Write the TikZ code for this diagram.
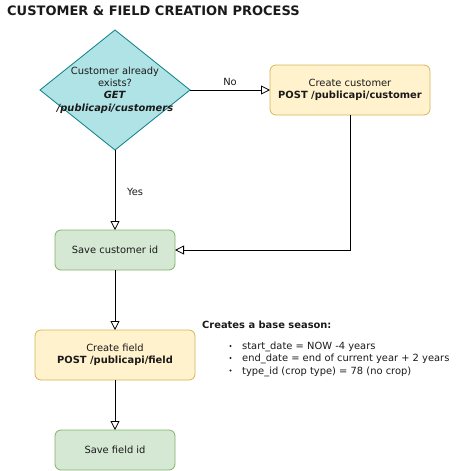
\documentclass[tikz,border=0pt]{standalone}
\usepackage{fontspec}
\setmainfont{DejaVu Sans}
\usetikzlibrary{arrows.meta,shapes.geometric}
\definecolor{dfill}{HTML}{B0E3E6}
\definecolor{dstroke}{HTML}{0E8088}
\definecolor{yfill}{HTML}{FFF2CC}
\definecolor{ystroke}{HTML}{D6B656}
\definecolor{gfill}{HTML}{D5E8D4}
\definecolor{gstroke}{HTML}{82B366}
\definecolor{txt}{HTML}{1A1A1A}
\begin{document}
\begin{tikzpicture}[x=1pt,y=-1pt,
  every node/.style={text=txt},
  basefont/.style={font=\fontsize{9.9}{12.2}\selectfont},
  lbl/.style={basefont, align=center, inner sep=0pt},
  ybox/.style={lbl, draw=ystroke, fill=yfill, rounded corners=6pt, minimum width=160pt, minimum height=50pt, line width=0.8pt, outer sep=0pt},
  gbox/.style={lbl, draw=gstroke, fill=gfill, rounded corners=6pt, minimum width=120pt, minimum height=40pt, line width=0.8pt, outer sep=0pt},
  decbox/.style={diamond, draw=dstroke, fill=dfill, minimum width=150pt, minimum height=120pt, inner sep=0pt, outer sep=0pt, line width=0.8pt},
  conn/.style={line width=0.8pt, -{Triangle[open,length=9pt,width=9pt]}},
  plain/.style={basefont, inner sep=0pt}
]
\useasboundingbox (0,0) rectangle (471,471);

\node[anchor=base west, inner sep=0pt, font=\fontsize{13}{15}\selectfont\bfseries] (title) at (7,15) {CUSTOMER \& FIELD CREATION PROCESS};

\node[decbox] (dec) at (115,90) {};
\node[lbl] (dectext) at (115,90) {Customer already\\exists?\\\textbf{\textit{GET}}\\\textbf{\textit{/publicapi/customers}}};

\node[ybox] (cc) at (350,90) {Create customer\\\textbf{POST /publicapi/customer}};
\node[gbox] (sc) at (115,250) {Save customer id};
\node[ybox] (cf) at (115,355) {Create field\\\textbf{POST /publicapi/field}};
\node[gbox] (sf) at (115,450) {Save field id};

\draw[conn] (dec.east) -- (cc.west) node[midway, yshift=8.3pt, plain] (no) {No};
\draw[conn] (dec.south) -- (sc.north) node[midway, xshift=20pt, yshift=-1.5pt, plain] (yes) {Yes};
\draw[conn] (cc.south) |- (sc.east);
\draw[conn] (sc.south) -- (cf.north);
\draw[conn] (cf.south) -- (sf.north);

\node[plain, anchor=base west] (head) at (202,328) {\textbf{Creates a base season:}};
\node[plain, anchor=base west] (b1) at (242,349.5) {start\_date = NOW -4 years};
\node[plain, anchor=base west] (b2) at (242,361.5) {end\_date = end of current year + 2 years};
\node[plain, anchor=base west] (b3) at (242,374) {type\_id (crop type) = 78 (no crop)};
\fill[txt] (230.5,346) circle (1.2pt);
\fill[txt] (230.5,358) circle (1.2pt);
\fill[txt] (230.5,370.5) circle (1.2pt);
\end{tikzpicture}
\end{document}
